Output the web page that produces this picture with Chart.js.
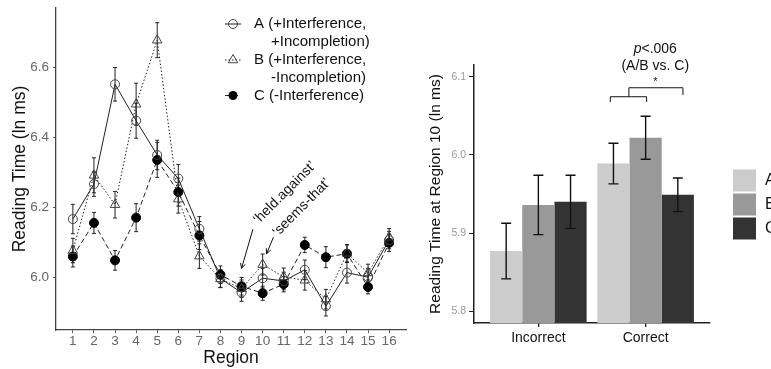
<!DOCTYPE html>
<html><head><meta charset="utf-8">
<script src="https://cdn.jsdelivr.net/npm/chart.js@4.4.0/dist/chart.umd.min.js"></script>
<style>
html,body{margin:0;padding:0;background:#fff;width:771px;height:369px;overflow:hidden;}
#c1{position:absolute;left:0;top:0;}
#c2{position:absolute;left:415px;top:0;}
</style></head><body>
<canvas id="c1" width="415" height="369"></canvas>
<canvas id="c2" width="356" height="369"></canvas>
<script>
const FONT = '"Liberation Sans", Arial, Helvetica, sans-serif';

// ---- Left panel data ----
const regions = [1,2,3,4,5,6,7,8,9,10,11,12,13,14,15,16];
const yTicksLeft = [6.0, 6.2, 6.4, 6.6];
const aMean = [6.167, 6.267, 6.552, 6.448, 6.350, 6.283, 6.139, 5.997, 5.957, 5.998, 5.990, 6.022, 5.918, 6.014, 6.001, 6.107];
const aErr  = [0.042, 0.035, 0.048, 0.050, 0.042, 0.040, 0.035, 0.025, 0.025, 0.028, 0.025, 0.028, 0.028, 0.030, 0.025, 0.025];
const bMean = [6.077, 6.292, 6.208, 6.495, 6.678, 6.224, 6.061, 5.996, 5.968, 6.037, 6.002, 5.992, 5.938, 6.069, 6.013, 6.115];
const bErr  = [0.035, 0.050, 0.038, 0.060, 0.050, 0.040, 0.035, 0.025, 0.025, 0.030, 0.025, 0.028, 0.028, 0.025, 0.025, 0.025];
const cMean = [6.060, 6.156, 6.049, 6.171, 6.336, 6.244, 6.120, 6.008, 5.975, 5.955, 5.981, 6.093, 6.058, 6.068, 5.973, 6.099];
const cErr  = [0.030, 0.030, 0.028, 0.040, 0.050, 0.040, 0.040, 0.025, 0.025, 0.020, 0.022, 0.022, 0.030, 0.025, 0.020, 0.025];
const legendLeft = [["A (+Interference,", "+Incompletion)"], ["B (+Interference,", "-Incompletion)"], ["C (-Interference)"]];

// ---- Right panel data ----
const conditions = ['Incorrect', 'Correct'];
const yTicksRight = [5.8, 5.9, 6.0, 6.1];
const barA = [5.877, 5.989];
const errA = [0.0355, 0.026];
const barB = [5.936, 6.022];
const errB = [0.038, 0.0275];
const barC = [5.940, 5.949];
const errC = [0.034, 0.0215];
const groupNames = ['A', 'B', 'C'];

const mk = (m) => regions.map((r, i) => ({x: r, y: m[i]}));

const errPlugin = {
  id: 'errLines',
  beforeDatasetsDraw(chart) {
    const ctx = chart.ctx, ys = chart.scales.y;
    chart.data.datasets.forEach((ds, di) => {
      const meta = chart.getDatasetMeta(di);
      meta.data.forEach((pt, i) => {
        const v = ds.data[i].y, e = ds.err[i];
        const y1 = ys.getPixelForValue(v + e), y2 = ys.getPixelForValue(v - e);
        ctx.save();
        ctx.strokeStyle = '#222'; ctx.lineWidth = 1;
        ctx.beginPath();
        ctx.moveTo(pt.x, y1); ctx.lineTo(pt.x, y2);
        ctx.moveTo(pt.x - 2, y1); ctx.lineTo(pt.x + 2, y1);
        ctx.moveTo(pt.x - 2, y2); ctx.lineTo(pt.x + 2, y2);
        ctx.stroke();
        ctx.restore();
      });
    });
  }
};

function drawSym(ctx, kind, x, y) {
  ctx.save();
  if (kind === 0) {
    ctx.beginPath(); ctx.arc(x, y, 4.5, 0, Math.PI * 2);
    ctx.strokeStyle = '#444'; ctx.lineWidth = 1; ctx.stroke();
  } else if (kind === 1) {
    const r = 5.5;
    ctx.beginPath();
    ctx.moveTo(x, y - r);
    ctx.lineTo(x + Math.sin(2 * Math.PI / 3) * r, y + r / 2);
    ctx.lineTo(x - Math.sin(2 * Math.PI / 3) * r, y + r / 2);
    ctx.closePath();
    ctx.strokeStyle = '#444'; ctx.lineWidth = 1; ctx.stroke();
  } else {
    ctx.beginPath(); ctx.arc(x, y, 4.5, 0, Math.PI * 2);
    ctx.fillStyle = '#000'; ctx.fill();
  }
  ctx.restore();
}

const legendPlugin1 = {
  id: 'legendLeft',
  afterDraw(chart) {
    const ctx = chart.ctx;
    const rowsY = [[24, 42], [60, 78], [95.5]];
    const dashes = [[], [1.5, 2], [5, 3]];
    ctx.save();
    ctx.font = '15px ' + FONT;
    ctx.fillStyle = '#111';
    ctx.textBaseline = 'middle';
    legendLeft.forEach((lines, k) => {
      const sy = rowsY[k][0];
      ctx.save();
      ctx.strokeStyle = '#222'; ctx.lineWidth = 1; ctx.setLineDash(dashes[k]);
      ctx.beginPath(); ctx.moveTo(225, sy); ctx.lineTo(241, sy); ctx.stroke();
      ctx.restore();
      drawSym(ctx, k, 233, sy);
      ctx.textAlign = 'left';
      ctx.fillText(lines[0], 254, rowsY[k][0]);
      if (lines[1]) ctx.fillText(lines[1], 271, rowsY[k][1]);
    });
    ctx.restore();
  }
};

function arrow(ctx, x1, y1, x2, y2) {
  const ang = Math.atan2(y2 - y1, x2 - x1), L = 5.5, a = Math.PI / 7;
  ctx.beginPath();
  ctx.moveTo(x1, y1); ctx.lineTo(x2, y2);
  ctx.moveTo(x2 - L * Math.cos(ang - a), y2 - L * Math.sin(ang - a));
  ctx.lineTo(x2, y2);
  ctx.lineTo(x2 - L * Math.cos(ang + a), y2 - L * Math.sin(ang + a));
  ctx.stroke();
}

const annotPlugin1 = {
  id: 'annotLeft',
  afterDraw(chart) {
    const ctx = chart.ctx, xs = chart.scales.x, ys = chart.scales.y;
    const P = (x, y) => [xs.getPixelForValue(x), ys.getPixelForValue(y)];
    ctx.save();
    ctx.strokeStyle = '#111'; ctx.lineWidth = 1;
    let s = P(9.54, 6.138), e = P(9.0, 6.026);
    arrow(ctx, s[0], s[1], e[0], e[1]);
    s = P(10.51, 6.115); e = P(10.19, 6.068);
    arrow(ctx, s[0], s[1], e[0], e[1]);
    ctx.font = '14px ' + FONT;
    ctx.fillStyle = '#111';
    ctx.textAlign = 'center'; ctx.textBaseline = 'middle';
    const texts = [['\u2018held.against\u2019', 11.05, 6.242], ['\u2018seems-that\u2019', 11.85, 6.200]];
    texts.forEach(t => {
      const p = P(t[1], t[2]);
      ctx.save(); ctx.translate(p[0], p[1]); ctx.rotate(-Math.PI / 4);
      ctx.fillText(t[0], 0, 0); ctx.restore();
    });
    ctx.restore();
  }
};

new Chart(document.getElementById('c1'), {
  type: 'line',
  data: {
    datasets: [
      {label: 'A', data: mk(aMean), err: aErr, borderColor: '#222', borderWidth: 1, tension: 0, fill: false,
       pointStyle: 'circle', pointRadius: 4.5, pointBackgroundColor: 'rgba(0,0,0,0)', pointBorderColor: '#444', pointBorderWidth: 1},
      {label: 'B', data: mk(bMean), err: bErr, borderColor: '#222', borderWidth: 1, borderDash: [1.5, 2], tension: 0, fill: false,
       pointStyle: 'triangle', pointRadius: 5.5, pointBackgroundColor: 'rgba(0,0,0,0)', pointBorderColor: '#444', pointBorderWidth: 1},
      {label: 'C', data: mk(cMean), err: cErr, borderColor: '#222', borderWidth: 1, borderDash: [5, 3], tension: 0, fill: false,
       pointStyle: 'circle', pointRadius: 4.5, pointBackgroundColor: '#000', pointBorderColor: '#000', pointBorderWidth: 1}
    ]
  },
  options: {
    responsive: false, animation: false, devicePixelRatio: 1,
    layout: {padding: {left: 0, right: 9, top: 8, bottom: 0}},
    plugins: {legend: {display: false}, tooltip: {enabled: false}},
    scales: {
      x: {
        type: 'linear', min: 0.2, max: 16.8,
        afterBuildTicks: s => { s.ticks = regions.map(v => ({value: v})); },
        afterFit: s => { s.height = 39; s.paddingLeft = 0; s.paddingRight = 0; },
        ticks: {autoSkip: false, maxRotation: 0, color: '#666', font: {family: FONT, size: 13.5}, padding: 0, callback: v => String(v)},
        grid: {drawOnChartArea: false, drawTicks: true, tickLength: 3, color: '#555'},
        border: {display: true, color: '#444', width: 1.3},
        title: {display: true, text: 'Region', color: '#111', font: {family: FONT, size: 17.5}, padding: {top: 0, bottom: 0}}
      },
      y: {
        type: 'linear', min: 5.85, max: 6.77,
        afterBuildTicks: s => { s.ticks = yTicksLeft.map(v => ({value: v})); },
        afterFit: s => { s.width = 56; s.paddingTop = 0; s.paddingBottom = 0; },
        ticks: {color: '#666', font: {family: FONT, size: 13.5}, padding: 4, callback: v => Number(v).toFixed(1)},
        grid: {drawOnChartArea: false, drawTicks: true, tickLength: 3, color: '#555'},
        border: {display: true, color: '#444', width: 1.3},
        title: {display: true, text: 'Reading Time (ln ms)', color: '#111', font: {family: FONT, size: 17.5}, padding: {top: 10, bottom: 0}}
      }
    }
  },
  plugins: [errPlugin, legendPlugin1, annotPlugin1]
});

// ---------- Right chart ----------
const barErrPlugin = {
  id: 'barErr',
  afterDatasetsDraw(chart) {
    const ctx = chart.ctx, ys = chart.scales.y;
    chart.data.datasets.forEach((ds, di) => {
      const meta = chart.getDatasetMeta(di);
      meta.data.forEach((bar, i) => {
        const v = ds.data[i].y, e = ds.err[i];
        const y1 = ys.getPixelForValue(v + e), y2 = ys.getPixelForValue(v - e);
        ctx.save();
        ctx.strokeStyle = '#111'; ctx.lineWidth = 1.4;
        ctx.beginPath();
        ctx.moveTo(bar.x, y1); ctx.lineTo(bar.x, y2);
        ctx.moveTo(bar.x - 5, y1); ctx.lineTo(bar.x + 5, y1);
        ctx.moveTo(bar.x - 5, y2); ctx.lineTo(bar.x + 5, y2);
        ctx.stroke();
        ctx.restore();
      });
    });
  }
};

const bracketPlugin = {
  id: 'bracket',
  afterDraw(chart) {
    const ctx = chart.ctx, xs = chart.scales.x, ys = chart.scales.y;
    const X = v => xs.getPixelForValue(v), Y = v => ys.getPixelForValue(v);
    ctx.save();
    ctx.strokeStyle = '#111'; ctx.lineWidth = 1;
    ctx.beginPath();
    // lower bracket (A/B)
    ctx.moveTo(X(2 - 0.329), Y(6.0676)); ctx.lineTo(X(2 - 0.329), Y(6.0744));
    ctx.lineTo(X(2 + 0.009), Y(6.0744)); ctx.lineTo(X(2 + 0.009), Y(6.0676));
    // connector + upper bracket
    ctx.moveTo(X(2 - 0.156), Y(6.0744)); ctx.lineTo(X(2 - 0.156), Y(6.0859));
    ctx.lineTo(X(2 + 0.348), Y(6.0859)); ctx.lineTo(X(2 + 0.348), Y(6.0766));
    ctx.stroke();
    // texts
    ctx.fillStyle = '#111';
    ctx.textBaseline = 'middle';
    const cx = X(2.09);
    ctx.font = 'italic 14px ' + FONT;
    const wp = ctx.measureText('p').width;
    ctx.font = '14px ' + FONT;
    const wr = ctx.measureText('<.006').width;
    const x0 = cx - (wp + wr) / 2;
    ctx.textAlign = 'left';
    ctx.font = 'italic 14px ' + FONT;
    ctx.fillText('p', x0, Y(6.1355));
    ctx.font = '14px ' + FONT;
    ctx.fillText('<.006', x0 + wp, Y(6.1355));
    ctx.textAlign = 'center';
    ctx.fillText('(A/B vs. C)', cx, Y(6.1135));
    ctx.font = '11px ' + FONT;
    ctx.fillText('*', cx, Y(6.0935));
    ctx.restore();
  }
};

const legendPlugin2 = {
  id: 'legendRight',
  afterDraw(chart) {
    const ctx = chart.ctx;
    ctx.save();
    ctx.font = '16px ' + FONT;
    ctx.textBaseline = 'middle'; ctx.textAlign = 'left';
    chart.data.datasets.forEach((ds, k) => {
      const top = 169.5 + k * 24;
      ctx.fillStyle = ds.backgroundColor;
      ctx.fillRect(318, top, 23, 22);
      ctx.fillStyle = '#111';
      ctx.fillText(groupNames[k], 350, top + 11.5);
    });
    ctx.restore();
  }
};

const mkBar = (vals) => conditions.map((c, i) => ({x: i + 1, y: vals[i]}));

new Chart(document.getElementById('c2'), {
  type: 'bar',
  data: {
    datasets: [
      {label: groupNames[0], data: mkBar(barA), err: errA, backgroundColor: '#cccccc'},
      {label: groupNames[1], data: mkBar(barB), err: errB, backgroundColor: '#999999'},
      {label: groupNames[2], data: mkBar(barC), err: errC, backgroundColor: '#333333'}
    ]
  },
  options: {
    responsive: false, animation: false, devicePixelRatio: 1,
    layout: {padding: {left: 0, right: 61, top: 65, bottom: 0}},
    datasets: {bar: {categoryPercentage: 0.9, barPercentage: 1.0, borderWidth: 0}},
    plugins: {legend: {display: false}, tooltip: {enabled: false}},
    scales: {
      x: {
        type: 'linear', offset: false, min: 0.4, max: 2.6,
        afterBuildTicks: s => { s.ticks = conditions.map((c, i) => ({value: i + 1})); },
        afterFit: s => { s.height = 46; s.paddingLeft = 0; s.paddingRight = 0; },
        ticks: {autoSkip: false, maxRotation: 0, color: '#111', font: {family: FONT, size: 14}, padding: 3,
                callback: v => conditions[Math.round(v) - 1]},
        grid: {offset: false, drawOnChartArea: false, drawTicks: true, tickLength: 4, color: '#222', lineWidth: 1.3},
        border: {display: true, color: '#222', width: 1.5}
      },
      y: {
        type: 'linear', min: 5.785, max: 6.115,
        afterBuildTicks: s => { s.ticks = yTicksRight.map(v => ({value: v})); },
        afterFit: s => { s.width = 59; s.paddingTop = 0; s.paddingBottom = 0; },
        ticks: {color: '#999', font: {family: FONT, size: 10.5}, padding: 3, callback: v => Number(v).toFixed(1)},
        grid: {drawOnChartArea: false, drawTicks: true, tickLength: 5, color: '#222', lineWidth: 1},
        border: {display: true, color: '#222', width: 1.5},
        title: {display: true, text: 'Reading Time at Region 10 (ln ms)', color: '#111', font: {family: FONT, size: 15.5}, padding: {top: 11, bottom: 0}}
      }
    }
  },
  plugins: [barErrPlugin, bracketPlugin, legendPlugin2]
});
</script>
</body></html>
